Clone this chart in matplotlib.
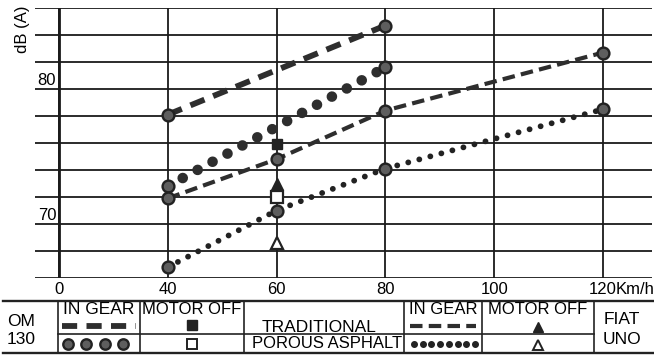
import matplotlib.pyplot as plt
import numpy as np

plt.rcParams["font.family"] = ["Liberation Sans", "DejaVu Sans"]

# speed (km/h) against pass-by noise dB(A)
speed_ticks = [0, 40, 60, 80, 100, 120]
speed_labels = ["0", "40", "60", "80", "100", "120"]
db_grid = np.arange(66, 87, 2)
db_labels = [70, 80]

om_speed = [40, 80]
om_trad_gear = [78.1, 84.7]
om_porous_gear = [72.8, 81.6]

fiat_speed = [40, 60, 80, 120]
fiat_trad_gear = [71.9, 74.8, 78.4, 82.7]
fiat_porous_gear = [66.8, 71.0, 74.1, 78.5]

motor_off_speed = 60
om_trad_off = 75.9
om_porous_off = 72.0
fiat_trad_off = 73.0
fiat_porous_off = 68.6

INK = "#222222"
FS = 12

# line styles shared by the chart and the key table
om_gear = dict(color="#2e2e2e", lw=4.2, dashes=(2.6, 1.6), dash_capstyle="butt")
om_dots = dict(color="#2e2e2e", lw=7.6, dashes=(0.01, 1.6), dash_capstyle="round")
fiat_gear = dict(color="#2e2e2e", lw=3.0, dashes=(3.0, 1.5), dash_capstyle="butt")
fiat_dots = dict(color=INK, lw=4.2, dashes=(0.01, 1.95), dash_capstyle="round")
point = dict(ls="none", marker="o", ms=8.5, mfc="#5e5e5e", mec=INK, mew=1.7)


def speed_fwd(v):
    # 0-40 is squeezed into the same width as each 20 km/h step above it
    v = np.asarray(v, dtype=float)
    return np.where(v < 40, v / 40, (v - 20) / 20)


def speed_inv(p):
    p = np.asarray(p, dtype=float)
    return np.where(p < 1, p * 40, p * 20 + 20)


fig = plt.figure(figsize=(6.54, 3.56), dpi=100)
ax = fig.add_axes([35 / 654, 1 - 278 / 356, 617 / 654, 270 / 356])
ax.set_xscale("function", functions=(speed_fwd, speed_inv))
ax.set_xlim(-8.8, 129)
ax.set_ylim(66, 86)

for s in ax.spines.values():
    s.set_visible(False)
ax.set_xticks(speed_ticks, speed_labels, fontsize=FS)
ax.set_yticks(db_grid)
ax.set_yticklabels([])
ax.tick_params(length=0, pad=3)
ax.xaxis.set_minor_locator(plt.NullLocator())
ax.grid(True, color="#1a1a1a", lw=1.3)
ax.set_axisbelow(True)
ax.axvline(0, color="#1a1a1a", lw=2.0, zorder=0.5)

for d in db_labels:
    ax.annotate(str(d), (0, d), xytext=(-2, 0.5), textcoords="offset points",
                ha="right", va="bottom", fontsize=FS)
ax.annotate("Km/h", (120, 66), xytext=(9, -3), textcoords="offset points",
            ha="left", va="top", fontsize=FS, annotation_clip=False)
fig.text(23 / 654, 1 - 29 / 356, "dB (A)", rotation=90, ha="center",
         va="center", fontsize=FS)

ax.plot(om_speed, om_trad_gear, **om_gear, zorder=3)
ax.plot(om_speed, om_porous_gear, **om_dots, zorder=3)
ax.plot(fiat_speed, fiat_trad_gear, **fiat_gear, zorder=3)
ax.plot(fiat_speed, fiat_porous_gear, **fiat_dots, zorder=3)
for xs, ys in [(om_speed, om_trad_gear), (om_speed, om_porous_gear),
               (fiat_speed, fiat_trad_gear), (fiat_speed, fiat_porous_gear)]:
    ax.plot(xs, ys, **point, zorder=4)

ax.plot(motor_off_speed, om_trad_off, "s", ms=7, mfc=INK, mec=INK, zorder=5)
ax.plot(motor_off_speed, om_porous_off, "s", ms=8, mfc="white", mec=INK,
        mew=1.6, zorder=5)
ax.plot(motor_off_speed, fiat_trad_off, "^", ms=8, mfc=INK, mec=INK, zorder=5)
ax.plot(motor_off_speed, fiat_porous_off, "^", ms=9, mfc="white", mec=INK,
        mew=1.6, zorder=5)

# key table underneath, laid out in pixel units
tab = fig.add_axes([0, 0, 1, 1])
tab.set_xlim(0, 654)
tab.set_ylim(356, 0)
tab.axis("off")

row_top, row_mid, row_bot = 301, 334, 353
tab.plot([3, 654], [row_top, row_top], color=INK, lw=1.7)
tab.plot([3, 654], [row_bot, row_bot], color=INK, lw=1.7)
tab.plot([58, 594], [row_mid, row_mid], color=INK, lw=1.2)
for cx in [58, 140, 244, 404, 482, 594]:
    tab.plot([cx, cx], [row_top, row_bot], color=INK, lw=1.2)

tab.text(21, 321, "OM", ha="center", va="center", fontsize=FS + 0.5)
tab.text(21, 340, "130", ha="center", va="center", fontsize=FS + 0.5)
tab.text(99, 309, "IN GEAR", ha="center", va="center", fontsize=FS + 0.5)
tab.text(192, 309, "MOTOR OFF", ha="center", va="center", fontsize=FS)
tab.text(319, 327, "TRADITIONAL", ha="center", va="center", fontsize=FS + 0.5)
tab.text(327, 344, "POROUS ASPHALT", ha="center", va="center", fontsize=FS)
tab.text(443, 309, "IN GEAR", ha="center", va="center", fontsize=FS)
tab.text(538, 309, "MOTOR OFF", ha="center", va="center", fontsize=FS)
tab.text(622, 319, "FIAT", ha="center", va="center", fontsize=FS + 0.5)
tab.text(622, 340, "UNO", ha="center", va="center", fontsize=FS + 0.5)

tab.plot([62, 136], [326, 326], **om_gear)
tab.plot(np.linspace(68, 123, 4), [344] * 4, **{**point, "ms": 7.5})
tab.plot(192, 325, "s", ms=6.5, mfc=INK, mec=INK)
tab.plot(192, 344, "s", ms=6.5, mfc="white", mec=INK, mew=1.4)
tab.plot([410, 476], [326, 326], **fiat_gear)
tab.plot(np.linspace(414, 475, 8), [344] * 8, ls="none", marker="o", ms=4,
         mfc=INK, mec=INK)
tab.plot(538, 327, "^", ms=6.5, mfc=INK, mec=INK)
tab.plot(538, 345, "^", ms=7.5, mfc="white", mec=INK, mew=1.4)

fig.savefig("out.png", dpi=100)
